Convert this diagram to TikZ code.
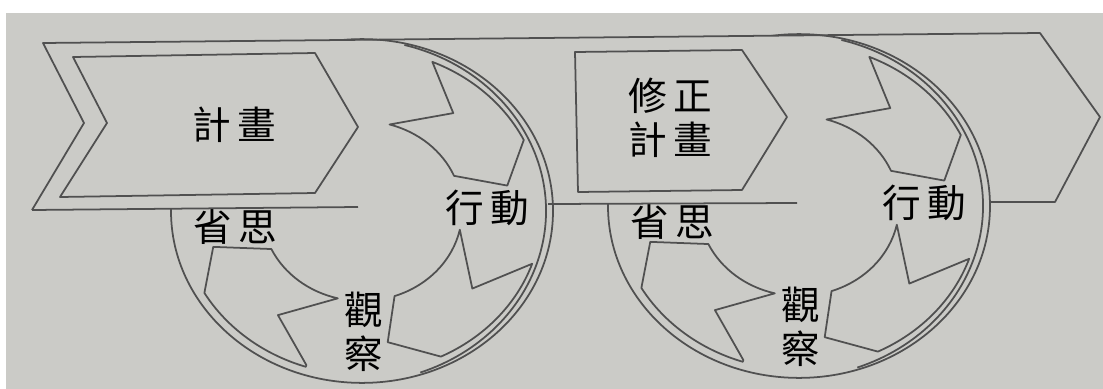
\documentclass[tikz,border=0pt]{standalone}
\usepackage{fontspec}
\newfontfamily\cjk{Noto Sans CJK TC}
\definecolor{paper}{RGB}{203,203,199}
\definecolor{ink}{RGB}{80,80,80}
\tikzset{
  lbl/.style={font=\cjk\fontsize{22}{25}\selectfont, align=center, inner sep=0pt},
  edge/.style={draw=ink, line width=1pt, line join=round},
}
\begin{document}
\begin{tikzpicture}[x=0.02cm, y=-0.02cm]
      \useasboundingbox (0,0) rectangle (1103,389);
      \fill[white] (0,0) rectangle (1103,389);
      \fill[paper] (6,13) rectangle (1103,389);
      % the two cycles
      \foreach \dx/\dy/\n in {0/0/a, 437/-5/b} {
        \begin{scope}[shift={(362+\dx,211+\dy)}, yscale=-0.9]
          \draw[edge] (0,0) circle[radius=191];
          \draw[edge, shift={(-7,0)}] (75:191) arc[start angle=75, end angle=-70, radius=191];
          \draw[edge] (67:180) -- (50:142) -- (74:100) arc[start angle=74, end angle=23, radius=100]
            -- (11:148) -- (26:180) arc[start angle=26, end angle=67, radius=180] -- cycle;
          \draw[edge] (-19:180) -- (-38:140) -- (-12:100) arc[start angle=-12, end angle=-71, radius=100]
            -- (-80:148) -- (-64:180) arc[start angle=-64, end angle=-19, radius=180] -- cycle;
          \draw[edge] (-108:180) -- (-126:143) -- (-104:100) arc[start angle=-104, end angle=-155, radius=100]
            -- (-165:154) -- (-150:182) arc[start angle=-150, end angle=-108, radius=182] -- cycle;
        \end{scope}
        \node[lbl] (refl\n) at (235+\dx,227+\dy) {省\,思};
        \node[lbl] (act\n) at (487+\dx,208+\dy) {行\,動};
        \node[lbl] (obs\n) at (364+\dx,332+\dy) {觀\\察};
      }
      % band over the cycles
      \fill[paper] (43,43) -- (84,123) -- (32,210) -- (358,207) -- (358,41) -- cycle;
      \fill[paper] (600,37) -- (797,36) -- (797,203) -- (600,203) -- cycle;
      \draw[edge] (32,210) -- (84,123) -- (43,43) -- (1040,33) -- (1100,117) -- (1055,202) -- (990,202);
      \draw[edge] (32,210) -- (358,207);
      \draw[edge] (548,204) -- (797,203);
      % plan boxes
      \draw[edge] (73,57) -- (107,123) -- (60,197) -- (315,193) -- (358,127) -- (315,53) -- cycle;
      \draw[edge] (575,52) -- (742,50) -- (787,117) -- (742,190) -- (578,192) -- cycle;
      \node[lbl] (plan) at (234,125) {計\,畫};
      \node[lbl] (replan) at (670,118) {修\,正\\計\,畫};
    \end{tikzpicture}
\end{document}
